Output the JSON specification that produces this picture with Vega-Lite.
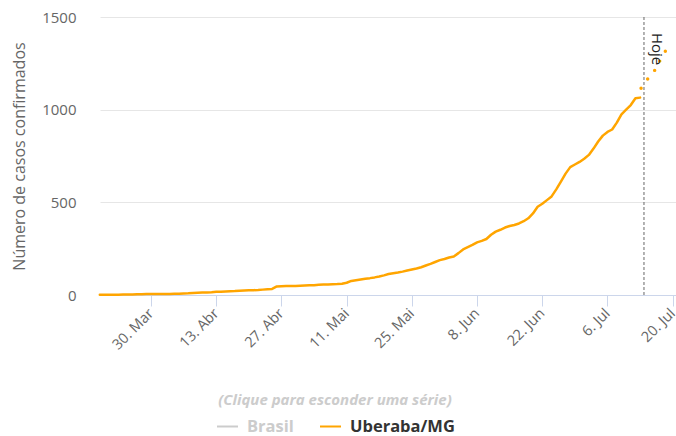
{
  "$schema": "https://vega.github.io/schema/vega-lite/v6.json",
  "width": 576,
  "height": 278,
  "autosize": "none",
  "padding": {"left": 100, "top": 17, "right": 0, "bottom": 141},
  "background": "white",
  "config": {"view": {"stroke": null}, "font": "Open Sans"},
  "datasets": {
    "main": [
      {"date": "2020-03-19", "casos": 1, "serie": "Uberaba/MG"},
      {"date": "2020-03-20", "casos": 1, "serie": "Uberaba/MG"},
      {"date": "2020-03-21", "casos": 1, "serie": "Uberaba/MG"},
      {"date": "2020-03-22", "casos": 2, "serie": "Uberaba/MG"},
      {"date": "2020-03-23", "casos": 2, "serie": "Uberaba/MG"},
      {"date": "2020-03-24", "casos": 3, "serie": "Uberaba/MG"},
      {"date": "2020-03-25", "casos": 3, "serie": "Uberaba/MG"},
      {"date": "2020-03-26", "casos": 3, "serie": "Uberaba/MG"},
      {"date": "2020-03-27", "casos": 4, "serie": "Uberaba/MG"},
      {"date": "2020-03-28", "casos": 4, "serie": "Uberaba/MG"},
      {"date": "2020-03-29", "casos": 5, "serie": "Uberaba/MG"},
      {"date": "2020-03-30", "casos": 5, "serie": "Uberaba/MG"},
      {"date": "2020-03-31", "casos": 5, "serie": "Uberaba/MG"},
      {"date": "2020-04-01", "casos": 6, "serie": "Uberaba/MG"},
      {"date": "2020-04-02", "casos": 6, "serie": "Uberaba/MG"},
      {"date": "2020-04-03", "casos": 6, "serie": "Uberaba/MG"},
      {"date": "2020-04-04", "casos": 7, "serie": "Uberaba/MG"},
      {"date": "2020-04-05", "casos": 7, "serie": "Uberaba/MG"},
      {"date": "2020-04-06", "casos": 8, "serie": "Uberaba/MG"},
      {"date": "2020-04-07", "casos": 9, "serie": "Uberaba/MG"},
      {"date": "2020-04-08", "casos": 11, "serie": "Uberaba/MG"},
      {"date": "2020-04-09", "casos": 12, "serie": "Uberaba/MG"},
      {"date": "2020-04-10", "casos": 13, "serie": "Uberaba/MG"},
      {"date": "2020-04-11", "casos": 14, "serie": "Uberaba/MG"},
      {"date": "2020-04-12", "casos": 15, "serie": "Uberaba/MG"},
      {"date": "2020-04-13", "casos": 17, "serie": "Uberaba/MG"},
      {"date": "2020-04-14", "casos": 18, "serie": "Uberaba/MG"},
      {"date": "2020-04-15", "casos": 19, "serie": "Uberaba/MG"},
      {"date": "2020-04-16", "casos": 20, "serie": "Uberaba/MG"},
      {"date": "2020-04-17", "casos": 21, "serie": "Uberaba/MG"},
      {"date": "2020-04-18", "casos": 23, "serie": "Uberaba/MG"},
      {"date": "2020-04-19", "casos": 24, "serie": "Uberaba/MG"},
      {"date": "2020-04-20", "casos": 25, "serie": "Uberaba/MG"},
      {"date": "2020-04-21", "casos": 26, "serie": "Uberaba/MG"},
      {"date": "2020-04-22", "casos": 27, "serie": "Uberaba/MG"},
      {"date": "2020-04-23", "casos": 29, "serie": "Uberaba/MG"},
      {"date": "2020-04-24", "casos": 31, "serie": "Uberaba/MG"},
      {"date": "2020-04-25", "casos": 33, "serie": "Uberaba/MG"},
      {"date": "2020-04-26", "casos": 46, "serie": "Uberaba/MG"},
      {"date": "2020-04-27", "casos": 47, "serie": "Uberaba/MG"},
      {"date": "2020-04-28", "casos": 48, "serie": "Uberaba/MG"},
      {"date": "2020-04-29", "casos": 48, "serie": "Uberaba/MG"},
      {"date": "2020-04-30", "casos": 49, "serie": "Uberaba/MG"},
      {"date": "2020-05-01", "casos": 50, "serie": "Uberaba/MG"},
      {"date": "2020-05-02", "casos": 51, "serie": "Uberaba/MG"},
      {"date": "2020-05-03", "casos": 52, "serie": "Uberaba/MG"},
      {"date": "2020-05-04", "casos": 53, "serie": "Uberaba/MG"},
      {"date": "2020-05-05", "casos": 55, "serie": "Uberaba/MG"},
      {"date": "2020-05-06", "casos": 56, "serie": "Uberaba/MG"},
      {"date": "2020-05-07", "casos": 57, "serie": "Uberaba/MG"},
      {"date": "2020-05-08", "casos": 58, "serie": "Uberaba/MG"},
      {"date": "2020-05-09", "casos": 59, "serie": "Uberaba/MG"},
      {"date": "2020-05-10", "casos": 61, "serie": "Uberaba/MG"},
      {"date": "2020-05-11", "casos": 66, "serie": "Uberaba/MG"},
      {"date": "2020-05-12", "casos": 76, "serie": "Uberaba/MG"},
      {"date": "2020-05-13", "casos": 80, "serie": "Uberaba/MG"},
      {"date": "2020-05-14", "casos": 84, "serie": "Uberaba/MG"},
      {"date": "2020-05-15", "casos": 88, "serie": "Uberaba/MG"},
      {"date": "2020-05-16", "casos": 91, "serie": "Uberaba/MG"},
      {"date": "2020-05-17", "casos": 95, "serie": "Uberaba/MG"},
      {"date": "2020-05-18", "casos": 100, "serie": "Uberaba/MG"},
      {"date": "2020-05-19", "casos": 106, "serie": "Uberaba/MG"},
      {"date": "2020-05-20", "casos": 113, "serie": "Uberaba/MG"},
      {"date": "2020-05-21", "casos": 117, "serie": "Uberaba/MG"},
      {"date": "2020-05-22", "casos": 121, "serie": "Uberaba/MG"},
      {"date": "2020-05-23", "casos": 126, "serie": "Uberaba/MG"},
      {"date": "2020-05-24", "casos": 132, "serie": "Uberaba/MG"},
      {"date": "2020-05-25", "casos": 138, "serie": "Uberaba/MG"},
      {"date": "2020-05-26", "casos": 143, "serie": "Uberaba/MG"},
      {"date": "2020-05-27", "casos": 150, "serie": "Uberaba/MG"},
      {"date": "2020-05-28", "casos": 159, "serie": "Uberaba/MG"},
      {"date": "2020-05-29", "casos": 168, "serie": "Uberaba/MG"},
      {"date": "2020-05-30", "casos": 178, "serie": "Uberaba/MG"},
      {"date": "2020-05-31", "casos": 188, "serie": "Uberaba/MG"},
      {"date": "2020-06-01", "casos": 194, "serie": "Uberaba/MG"},
      {"date": "2020-06-02", "casos": 202, "serie": "Uberaba/MG"},
      {"date": "2020-06-03", "casos": 208, "serie": "Uberaba/MG"},
      {"date": "2020-06-04", "casos": 226, "serie": "Uberaba/MG"},
      {"date": "2020-06-05", "casos": 246, "serie": "Uberaba/MG"},
      {"date": "2020-06-06", "casos": 258, "serie": "Uberaba/MG"},
      {"date": "2020-06-07", "casos": 270, "serie": "Uberaba/MG"},
      {"date": "2020-06-08", "casos": 284, "serie": "Uberaba/MG"},
      {"date": "2020-06-09", "casos": 292, "serie": "Uberaba/MG"},
      {"date": "2020-06-10", "casos": 302, "serie": "Uberaba/MG"},
      {"date": "2020-06-11", "casos": 325, "serie": "Uberaba/MG"},
      {"date": "2020-06-12", "casos": 342, "serie": "Uberaba/MG"},
      {"date": "2020-06-13", "casos": 352, "serie": "Uberaba/MG"},
      {"date": "2020-06-14", "casos": 364, "serie": "Uberaba/MG"},
      {"date": "2020-06-15", "casos": 372, "serie": "Uberaba/MG"},
      {"date": "2020-06-16", "casos": 378, "serie": "Uberaba/MG"},
      {"date": "2020-06-17", "casos": 386, "serie": "Uberaba/MG"},
      {"date": "2020-06-18", "casos": 398, "serie": "Uberaba/MG"},
      {"date": "2020-06-19", "casos": 414, "serie": "Uberaba/MG"},
      {"date": "2020-06-20", "casos": 440, "serie": "Uberaba/MG"},
      {"date": "2020-06-21", "casos": 476, "serie": "Uberaba/MG"},
      {"date": "2020-06-22", "casos": 492, "serie": "Uberaba/MG"},
      {"date": "2020-06-23", "casos": 512, "serie": "Uberaba/MG"},
      {"date": "2020-06-24", "casos": 532, "serie": "Uberaba/MG"},
      {"date": "2020-06-25", "casos": 570, "serie": "Uberaba/MG"},
      {"date": "2020-06-26", "casos": 612, "serie": "Uberaba/MG"},
      {"date": "2020-06-27", "casos": 655, "serie": "Uberaba/MG"},
      {"date": "2020-06-28", "casos": 690, "serie": "Uberaba/MG"},
      {"date": "2020-06-29", "casos": 704, "serie": "Uberaba/MG"},
      {"date": "2020-06-30", "casos": 718, "serie": "Uberaba/MG"},
      {"date": "2020-07-01", "casos": 735, "serie": "Uberaba/MG"},
      {"date": "2020-07-02", "casos": 756, "serie": "Uberaba/MG"},
      {"date": "2020-07-03", "casos": 790, "serie": "Uberaba/MG"},
      {"date": "2020-07-04", "casos": 828, "serie": "Uberaba/MG"},
      {"date": "2020-07-05", "casos": 860, "serie": "Uberaba/MG"},
      {"date": "2020-07-06", "casos": 880, "serie": "Uberaba/MG"},
      {"date": "2020-07-07", "casos": 893, "serie": "Uberaba/MG"},
      {"date": "2020-07-08", "casos": 930, "serie": "Uberaba/MG"},
      {"date": "2020-07-09", "casos": 975, "serie": "Uberaba/MG"},
      {"date": "2020-07-10", "casos": 1000, "serie": "Uberaba/MG"},
      {"date": "2020-07-11", "casos": 1025, "serie": "Uberaba/MG"},
      {"date": "2020-07-12", "casos": 1062, "serie": "Uberaba/MG"},
      {"date": "2020-07-13", "casos": 1065, "serie": "Uberaba/MG"}
    ],
    "projecao": [
      {"date": "2020-07-13T05:00:00Z", "casos": 1115},
      {"date": "2020-07-14T15:00:00Z", "casos": 1166},
      {"date": "2020-07-16T03:00:00Z", "casos": 1212},
      {"date": "2020-07-17T05:00:00Z", "casos": 1262},
      {"date": "2020-07-18T10:00:00Z", "casos": 1315}
    ],
    "hoje": [
      {"date": "2020-07-13T20:00:00Z", "label": "Hoje"}
    ]
  },
  "layer": [
    {
      "data": {"name": "main"},
      "mark": {"type": "line", "strokeWidth": 2.5, "strokeJoin": "round", "strokeCap": "round"},
      "encoding": {
        "x": {
          "field": "date",
          "type": "temporal",
          "scale": {
            "type": "utc",
            "domain": [
              {"year": 2020, "month": 3, "date": 19, "hours": 1, "utc": true},
              {"year": 2020, "month": 7, "date": 20, "hours": 17, "utc": true}
            ]
          },
          "axis": {
            "title": null,
            "grid": false,
            "values": [
              {"year": 2020, "month": 3, "date": 30, "utc": true},
              {"year": 2020, "month": 4, "date": 13, "utc": true},
              {"year": 2020, "month": 4, "date": 27, "utc": true},
              {"year": 2020, "month": 5, "date": 11, "utc": true},
              {"year": 2020, "month": 5, "date": 25, "utc": true},
              {"year": 2020, "month": 6, "date": 8, "utc": true},
              {"year": 2020, "month": 6, "date": 22, "utc": true},
              {"year": 2020, "month": 7, "date": 6, "utc": true},
              {"year": 2020, "month": 7, "date": 20, "utc": true}
            ],
            "labelExpr": "utcdate(datum.value) + '. ' + ['Jan','Fev','Mar','Abr','Mai','Jun','Jul','Ago','Set','Out','Nov','Dez'][utcmonth(datum.value)]",
            "labelAngle": -45,
            "labelAlign": "right",
            "labelBaseline": "middle",
            "labelPadding": 5,
            "labelColor": "#666666",
            "labelFontSize": 14.5,
            "labelOverlap": false,
            "labelFlush": false,
            "domainColor": "#ccd6eb",
            "tickColor": "#ccd6eb",
            "tickSize": 11
          }
        },
        "y": {
          "field": "casos",
          "type": "quantitative",
          "scale": {"domain": [0, 1500], "nice": false},
          "axis": {
            "values": [0, 500, 1000, 1500],
            "format": "d",
            "title": "Número de casos confirmados",
            "titleColor": "#666666",
            "titleFontSize": 16,
            "titleFontWeight": "normal",
            "titlePadding": 14,
            "domain": false,
            "ticks": false,
            "labelPadding": 24,
            "labelColor": "#666666",
            "labelFontSize": 15,
            "gridColor": "#e6e6e6"
          }
        },
        "color": {
          "field": "serie",
          "type": "nominal",
          "scale": {"domain": ["Brasil", "Uberaba/MG"], "range": ["#cccccc", "#ffa500"]},
          "legend": {
            "orient": "none",
            "legendX": 116,
            "legendY": 376,
            "direction": "horizontal",
            "title": "(Clique para esconder uma série)",
            "titleOrient": "top",
            "titleAnchor": "middle",
            "titleFontStyle": "italic",
            "titleFontWeight": "bold",
            "titleColor": "#cccccc",
            "titleFontSize": 15,
            "titleLimit": 600,
            "titlePadding": 7,
            "symbolType": "stroke",
            "symbolStrokeWidth": 2,
            "symbolSize": 440,
            "labelFontSize": 16.5,
            "labelFontWeight": "bold",
            "labelOffset": 8,
            "labelLimit": 300,
            "columnPadding": 22,
            "encode": {
              "labels": {"update": {"fill": {"signal": "datum.label === 'Brasil' ? '#cccccc' : '#333333'"}}}
            }
          }
        }
      }
    },
    {
      "data": {"name": "projecao"},
      "mark": {"type": "point", "filled": true, "size": 12, "color": "#ffa500", "opacity": 1},
      "encoding": {
        "x": {"field": "date", "type": "temporal"},
        "y": {"field": "casos", "type": "quantitative"}
      }
    },
    {
      "data": {"name": "hoje"},
      "mark": {"type": "rule", "color": "#666666", "strokeWidth": 1, "strokeDash": [3, 2]},
      "encoding": {
        "x": {"field": "date", "type": "temporal"}
      }
    },
    {
      "data": {"name": "hoje"},
      "mark": {"type": "text", "angle": 90, "align": "left", "baseline": "alphabetic", "dx": 16, "dy": -8, "fontSize": 15, "color": "#222222"},
      "encoding": {
        "x": {"field": "date", "type": "temporal"},
        "y": {"datum": 1500, "type": "quantitative"},
        "text": {"field": "label"}
      }
    }
  ]
}
